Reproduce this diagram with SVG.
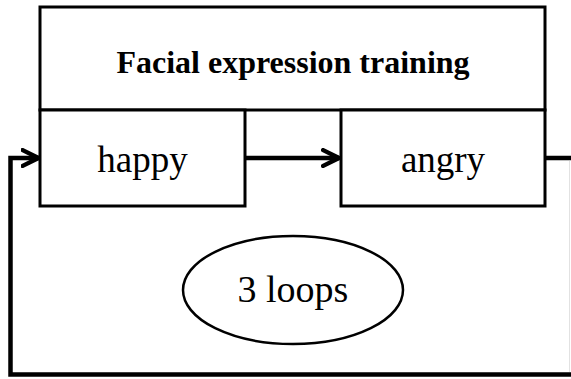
<svg xmlns="http://www.w3.org/2000/svg" width="571" height="379" viewBox="0 0 571 379">
  <style>
    .box { fill: #fff; stroke: #000; stroke-width: 3; }
    .label { font-family: "Liberation Serif", "Times New Roman", serif; fill: #000; text-anchor: middle; }
    .wire { fill: none; stroke: #000; stroke-width: 4.5; }
  </style>
  <defs>
    <marker id="chevron" viewBox="0 0 10 10" refX="9" refY="5" markerWidth="4.4" markerHeight="4.4" markerUnits="strokeWidth" orient="auto">
      <path d="M1,1 L9,5 L1,9" fill="none" stroke="#000" stroke-width="2.2" stroke-linecap="round" stroke-linejoin="round"/>
    </marker>
  </defs>
  <rect width="571" height="379" fill="#fff"/>

  <g id="training">
    <rect class="box" x="40" y="7" width="505" height="103"/>
    <text class="label" x="293" y="73" font-size="32" font-weight="bold">Facial expression training</text>
  </g>

  <g id="happy">
    <rect class="box" x="40" y="110" width="205" height="96"/>
    <text class="label" x="142.5" y="172" font-size="37">happy</text>
  </g>

  <g id="angry">
    <rect class="box" x="341" y="110" width="204" height="96"/>
    <text class="label" x="443" y="172" font-size="37">angry</text>
  </g>

  <g id="loops">
    <ellipse cx="293" cy="290" rx="110" ry="54" fill="#fff" stroke="#000" stroke-width="2.5"/>
    <text class="label" x="293" y="302" font-size="38">3 loops</text>
  </g>

  <g id="connectors">
    <path class="wire" d="M245,158 H339" marker-end="url(#chevron)"/>
    <path class="wire" d="M545,158 H575 V374.5 H10.5 V158 H38.5" marker-end="url(#chevron)"/>
    <line x1="569.5" y1="161" x2="569.5" y2="372" stroke="#e2e2e2" stroke-width="1"/>
  </g>
</svg>
